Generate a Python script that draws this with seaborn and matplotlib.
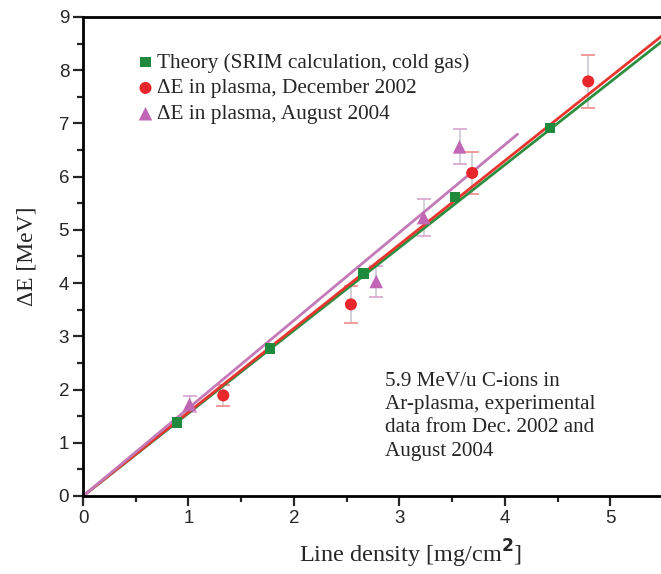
import numpy as np
import pandas as pd
import matplotlib.pyplot as plt
import seaborn as sns
from matplotlib.ticker import MultipleLocator

# values
theory_x = [0.89, 1.77, 2.66, 3.53, 4.43]
theory_y = [1.38, 2.77, 4.18, 5.62, 6.92]

dec_x = [1.33, 2.54, 3.69, 4.79]
dec_y = [1.89, 3.60, 6.07, 7.79]
dec_err = [0.20, 0.35, 0.40, 0.50]

aug_x = [1.01, 2.78, 3.23, 3.57]
aug_y = [1.72, 4.03, 5.23, 6.56]
aug_err = [0.15, 0.30, 0.35, 0.33]

# linear fits through the origin: slope and how far each line goes
fit_names = ['theory', 'dec', 'aug']
fit_slopes = [1.556, 1.575, 1.650]
fit_xmax = [5.6, 5.6, 4.12]

colors = {'theory': '#1f8a3c', 'dec': '#e8262b', 'aug': '#c066b4'}
line_colors = {'theory': '#2b8f3f', 'dec': '#e8352f', 'aug': '#c47ab9'}
cap_colors = {'dec': '#f08a8a', 'aug': '#d9a3cf'}

sns.set_style('ticks')
plt.rcParams['font.family'] = ['Liberation Sans', 'DejaVu Sans']

fig = plt.figure(figsize=(6.61, 5.74), dpi=100)
ax = fig.add_axes([0.1256, 0.1359, 0.8744, 0.8345])

# fitted lines
lines = pd.DataFrame({
    'x': [v for xm in fit_xmax for v in (0.0, xm)],
    'y': [v for s, xm in zip(fit_slopes, fit_xmax) for v in (0.0, s * xm)],
    'set': [n for n in fit_names for _ in range(2)],
})
sns.lineplot(data=lines, x='x', y='y', hue='set', palette=line_colors,
             linewidth=2, legend=False, ax=ax, zorder=2)

# error bars: grey stem, coloured caps
for x, y, e, key in [(dec_x, dec_y, dec_err, 'dec'), (aug_x, aug_y, aug_err, 'aug')]:
    eb = ax.errorbar(x, y, yerr=e, fmt='none', ecolor='#c9c9d3', elinewidth=1.2,
                     capsize=5, capthick=1.2, zorder=1)
    for cap in eb[1]:
        cap.set_color(cap_colors[key])
        cap.set_markeredgecolor(cap_colors[key])

sns.scatterplot(x=theory_x, y=theory_y, marker='s', s=55, color=colors['theory'],
                edgecolor='none', ax=ax, zorder=3,
                label='Theory (SRIM calculation, cold gas)')
sns.scatterplot(x=dec_x, y=dec_y, marker='o', s=75, color=colors['dec'],
                edgecolor='none', ax=ax, zorder=3,
                label='\u0394E in plasma, December 2002')
sns.scatterplot(x=aug_x, y=aug_y, marker='^', s=95, color=colors['aug'],
                edgecolor='none', ax=ax, zorder=3,
                label='\u0394E in plasma, August 2004')

ax.set_xlim(0, 5.48)
ax.set_ylim(0, 9)
ax.xaxis.set_major_locator(MultipleLocator(1))
ax.xaxis.set_minor_locator(MultipleLocator(0.5))
ax.yaxis.set_major_locator(MultipleLocator(1))
ax.yaxis.set_minor_locator(MultipleLocator(0.5))
ax.tick_params(which='major', direction='out', length=7, width=1.6, labelsize=13.5, pad=3)
ax.tick_params(which='minor', direction='out', length=4.5, width=1.6)

for side in ['left', 'bottom', 'top']:
    ax.spines[side].set_linewidth(2)
    ax.spines[side].set_color('black')
ax.spines['right'].set_visible(False)

serif = ['Liberation Serif', 'DejaVu Serif']
ax.set_xlabel('Line density [mg/cm$^\\mathbf{2}$]', family=serif, fontsize=17.5)
ax.xaxis.set_label_coords(0.566, -0.088)
ax.set_ylabel('\u0394E [MeV]', family=serif, fontsize=17, labelpad=15)

leg = ax.legend(loc='upper left', bbox_to_anchor=(0.075, 0.943), frameon=False,
                prop={'family': serif, 'size': 15.3}, handletextpad=0.05,
                handlelength=1.0, labelspacing=0.28, borderaxespad=0)

ax.text(2.86, 2.33, '5.9 MeV/u C-ions in\nAr-plasma, experimental\ndata from Dec. 2002 and\nAugust 2004',
        family=serif, fontsize=15.2, va='top', ha='left', linespacing=1.3)

fig.savefig('out.png', dpi=100)
